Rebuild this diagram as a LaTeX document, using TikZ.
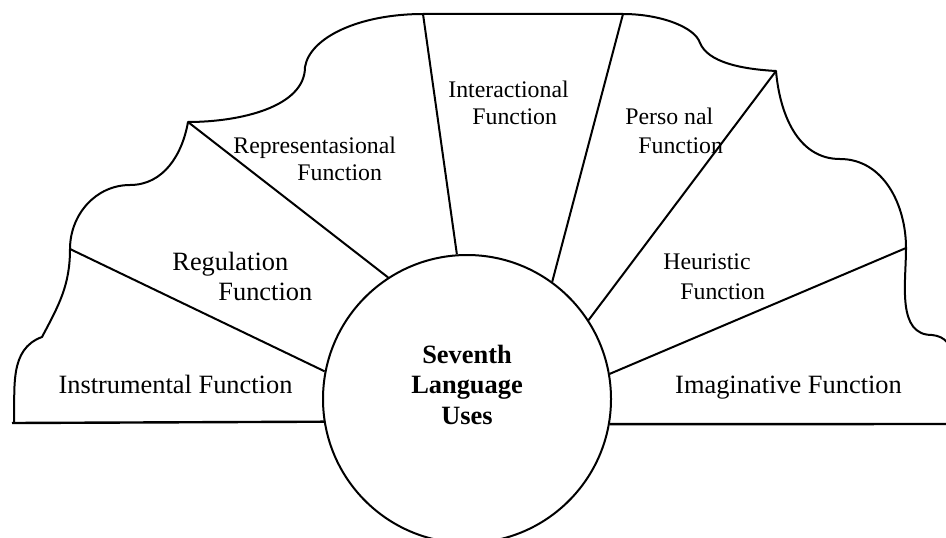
\documentclass[tikz,border=0pt]{standalone}
\usepackage{fontspec}
\setmainfont{Liberation Serif}
\usepackage{tikz}

\begin{document}
\begin{tikzpicture}
      [x=0.5pt, y=0.5pt,
        edge/.style={line width=1pt, line join=round},
        hub/.style={circle, draw, line width=1pt, inner sep=0pt, minimum size=144pt},
        biglbl/.style={inner sep=0pt, font=\fontsize{13.2}{15}\selectfont},
        lbl/.style={inner sep=0pt, align=left, anchor=base west,
          font=\fontsize{11.9}{13.5}\selectfont}]
    \useasboundingbox (0,0) rectangle (946,537);
    % points along the scalloped rim
    \coordinate (a0) at (14,114);
    \coordinate (a1) at (42,200);
    \coordinate (a2) at (70,288);
    \coordinate (a3) at (130,352);
    \coordinate (a4) at (188,415);
    \coordinate (a5) at (305,470);
    \coordinate (a6) at (423,523);
    \coordinate (a7) at (623,523);
    \coordinate (a8) at (700,494);
    \coordinate (a9) at (776,466);
    \coordinate (a10) at (840,378);
    \coordinate (a11) at (906,289);
    \coordinate (a12) at (932,202);
    \coordinate (a13) at (958,137);
    \coordinate (a14) at (958,113);
    \coordinate (baseL) at (12,114);

    \node[hub] (uses) at (467,138) {};
    % multi-line nodes sit on their last line
    \node[font=\fontsize{13.2}{15.25}\selectfont\bfseries, align=center, anchor=base, inner sep=0pt]
      (usestxt) at (467,113) {Seventh\\Language\\Uses};

    \draw[edge] (a0) to[out=88, in=200] (a1)
      to[out=62, in=-90] (a2)
      to[out=90, in=180] (a3)
      to[out=0, in=-100] (a4)
      .. controls (240,415) and (305,430) .. (a5)
      .. controls (310,500) and (360,523) .. (a6)
      -- (a7)
      .. controls (660,523) and (695,510) .. (a8)
      .. controls (708,475) and (740,468) .. (a9)
      to[out=-85, in=180] (a10)
      to[out=0, in=90] (a11)
      to[out=-90, in=180] (a12)
      to[out=-5, in=95] (a13)
      -- (a14);

    % base line and spokes
    \draw[edge, line width=1.2pt] (baseL) -- (uses.189.6);
    \draw[edge, line width=1.2pt] (uses.-10) -- (a14);
    \draw[edge] (a2) -- (uses.169.8);
    \draw[edge] (a4) -- (uses.123.7);
    \draw[edge] (a6) -- (uses.94.4);
    \draw[edge] (a7) -- (uses.54.7);
    \draw[edge] (a9) -- (uses.33);
    \draw[edge] (a11) -- (uses.10.7);

    \node[biglbl, anchor=base] (instr) at (175.5,144) {Instrumental Function};
    \node[biglbl, anchor=base] (imag) at (788.5,144) {Imaginative Function};
    \node[lbl, font=\fontsize{13.2}{15}\selectfont] (reg) at (172,237)
      {Regulation\\\hspace*{23pt}Function};
    \node[lbl] (repr) at (233,357) {Representasional\\\hspace*{32pt}Function};
    \node[lbl] (inter) at (448,413) {Interactional\\\hspace*{12pt}Function};
    \node[lbl] (pers) at (625,384) {Perso nal\\[1pt]\hspace*{6.5pt}Function};
    \node[lbl] (heur) at (663,238) {Heuristic\\[1.5pt]\hspace*{8.5pt}Function};
\end{tikzpicture}
\end{document}
